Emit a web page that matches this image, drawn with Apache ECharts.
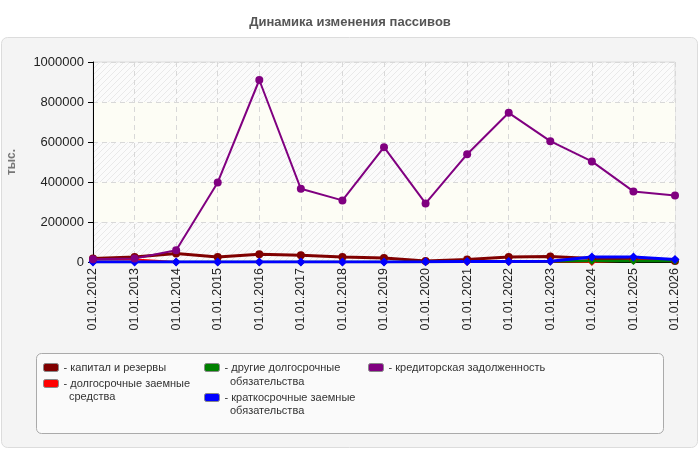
<!DOCTYPE html>
<html>
<head>
<meta charset="utf-8">
<script src="https://cdn.jsdelivr.net/npm/echarts@6/dist/echarts.min.js"></script>
<style>
  html, body { margin: 0; padding: 0; background: #fff; }
  #chart { width: 700px; height: 450px; }
</style>
</head>
<body>
<div id="chart"></div>
<script>
// years on the x axis
const categories = ['01.01.2012', '01.01.2013', '01.01.2014', '01.01.2015', '01.01.2016',
    '01.01.2017', '01.01.2018', '01.01.2019', '01.01.2020', '01.01.2021', '01.01.2022',
    '01.01.2023', '01.01.2024', '01.01.2025', '01.01.2026'];

const capitalValues = [17000, 25000, 42000, 25000, 39000, 34000, 25000, 20000, 5000, 13000, 25000, 28000, 17000, 12000, 5000];
const longLoanValues = [12000, 12000, 0, 0, 0, 0, 0, 0, 0, 0, 0, 3000, 0, 8000, 8000];
const otherLongValues = [0, 0, 0, 0, 0, 0, 0, 0, 0, 2000, 2000, 4000, 5000, 5000, 5000];
const shortLoanValues = [0, 0, 0, 0, 0, 0, 0, 0, 1000, 3000, 3000, 4000, 25000, 25000, 12000];
const payableValues = [14000, 17000, 59000, 398000, 910000, 366000, 308000, 574000, 293000, 539000, 746000, 604000, 503000, 353000, 333000];

const seriesNames = ['капитал и резервы', 'долгосрочные заемные средства', 'другие долгосрочные обязательства',
    'краткосрочные заемные обязательства', 'кредиторская задолженность'];
// first line shown by the legend itself, the wrapped rest goes underneath
const legendFirstLines = {
    'капитал и резервы': 'капитал и резервы',
    'долгосрочные заемные средства': 'долгосрочные заемные',
    'другие долгосрочные обязательства': 'другие долгосрочные',
    'краткосрочные заемные обязательства': 'краткосрочные заемные',
    'кредиторская задолженность': 'кредиторская задолженность'
};
const legendWrapped = [
    { text: 'средства', x: 69, y: 397 },
    { text: 'обязательства', x: 230, y: 382 },
    { text: 'обязательства', x: 230, y: 411 }
];

// diagonal hatching for the plot background
function hatch() {
    const c = document.createElement('canvas');
    c.width = 6;
    c.height = 6;
    const ctx = c.getContext('2d');
    ctx.fillStyle = '#fbfbfb';
    ctx.fillRect(0, 0, 6, 6);
    ctx.strokeStyle = '#e9e9e9';
    ctx.lineWidth = 1;
    ctx.beginPath();
    ctx.moveTo(0, 6); ctx.lineTo(6, 0);
    ctx.moveTo(-1, 1); ctx.lineTo(1, -1);
    ctx.moveTo(5, 7); ctx.lineTo(7, 5);
    ctx.stroke();
    return c;
}

function line(name, data, color, width, symbol, size) {
    return {
        name: name,
        type: 'line',
        data: data,
        symbol: symbol,
        symbolSize: size,
        showSymbol: true,
        itemStyle: { color: color },
        lineStyle: { color: color, width: width },
        emphasis: { disabled: true }
    };
}

const legendFont = { fontSize: 11, color: '#333', lineHeight: 15, fontFamily: 'Liberation Sans' };

const legendCommon = {
    orient: 'vertical',
    padding: 0,
    itemWidth: 15,
    itemHeight: 8,
    icon: 'roundRect',
    itemStyle: { borderColor: '#888', borderWidth: 1 },
    textStyle: legendFont,
    formatter: function (name) { return '- ' + legendFirstLines[name]; },
    selectedMode: false
};

const graphics = [{
    type: 'rect',
    z: -10,
    shape: { x: 1.5, y: 37.5, width: 696, height: 410, r: 6 },
    style: { fill: '#f4f4f4', stroke: '#dcdcdc', lineWidth: 1 }
}, {
    type: 'rect',
    z: -5,
    shape: { x: 36.5, y: 353.5, width: 627, height: 80, r: 5 },
    style: { fill: '#fafafa', stroke: '#aaa', lineWidth: 1 }
}];
legendWrapped.forEach(function (w) {
    graphics.push({
        type: 'text',
        x: w.x,
        y: w.y,
        style: {
            text: w.text,
            fontSize: legendFont.fontSize,
            fontFamily: legendFont.fontFamily,
            fill: legendFont.color,
            verticalAlign: 'middle'
        }
    });
});

const chart = echarts.init(document.getElementById('chart'));
chart.setOption({
    animation: false,
    textStyle: { fontFamily: 'Liberation Sans' },
    title: {
        text: 'Динамика изменения пассивов',
        left: 'center',
        top: 11,
        textStyle: { fontSize: 13, fontWeight: 'bold', color: '#555' }
    },
    graphic: graphics,
    legend: [
        Object.assign({ left: 43, top: 360, itemGap: 1, data: [seriesNames[0], seriesNames[1]] }, legendCommon),
        Object.assign({ left: 204, top: 360, itemGap: 15, data: [seriesNames[2], seriesNames[3]] }, legendCommon),
        Object.assign({ left: 368, top: 360, itemGap: 0, data: [seriesNames[4]] }, legendCommon)
    ],
    grid: {
        left: 93,
        right: 25,
        top: 62,
        bottom: 188,
        outerBoundsMode: 'none',
        show: true,
        backgroundColor: { image: hatch(), repeat: 'repeat' },
        borderColor: '#ddd',
        borderWidth: 1
    },
    xAxis: {
        type: 'category',
        boundaryGap: false,
        data: categories,
        axisLine: { lineStyle: { color: '#000', width: 1 } },
        axisTick: { show: false },
        axisLabel: { rotate: 90, fontSize: 12.5, color: '#222', margin: 6 },
        splitLine: { show: true, lineStyle: { color: '#d8d8d8', type: [5, 4] } }
    },
    yAxis: {
        type: 'value',
        min: 0,
        max: 1000000,
        interval: 200000,
        name: 'тыс.',
        nameLocation: 'middle',
        nameGap: 75,
        nameMoveOverlap: false,
        nameTextStyle: { color: '#777', fontSize: 12, fontWeight: 'bold' },
        axisLine: { show: true, lineStyle: { color: '#000' } },
        axisTick: { show: true, length: 5, lineStyle: { color: '#000' } },
        axisLabel: { fontSize: 13, color: '#222', margin: 9, formatter: function (v) { return String(v); } },
        splitLine: { show: true, lineStyle: { color: '#d8d8d8', type: [5, 4] } },
        splitArea: { show: true, areaStyle: { color: ['rgba(0,0,0,0)', '#fdfdf5'] } }
    },
    series: [
        line(seriesNames[0], capitalValues, '#800000', 3, 'circle', 8),
        line(seriesNames[1], longLoanValues, '#ff0000', 2, 'diamond', 8),
        line(seriesNames[2], otherLongValues, '#008000', 2.5, 'diamond', 8),
        line(seriesNames[3], shortLoanValues, '#0000ff', 3, 'diamond', 9),
        line(seriesNames[4], payableValues, '#800080', 2, 'circle', 8)
    ]
});
</script>
</body>
</html>
